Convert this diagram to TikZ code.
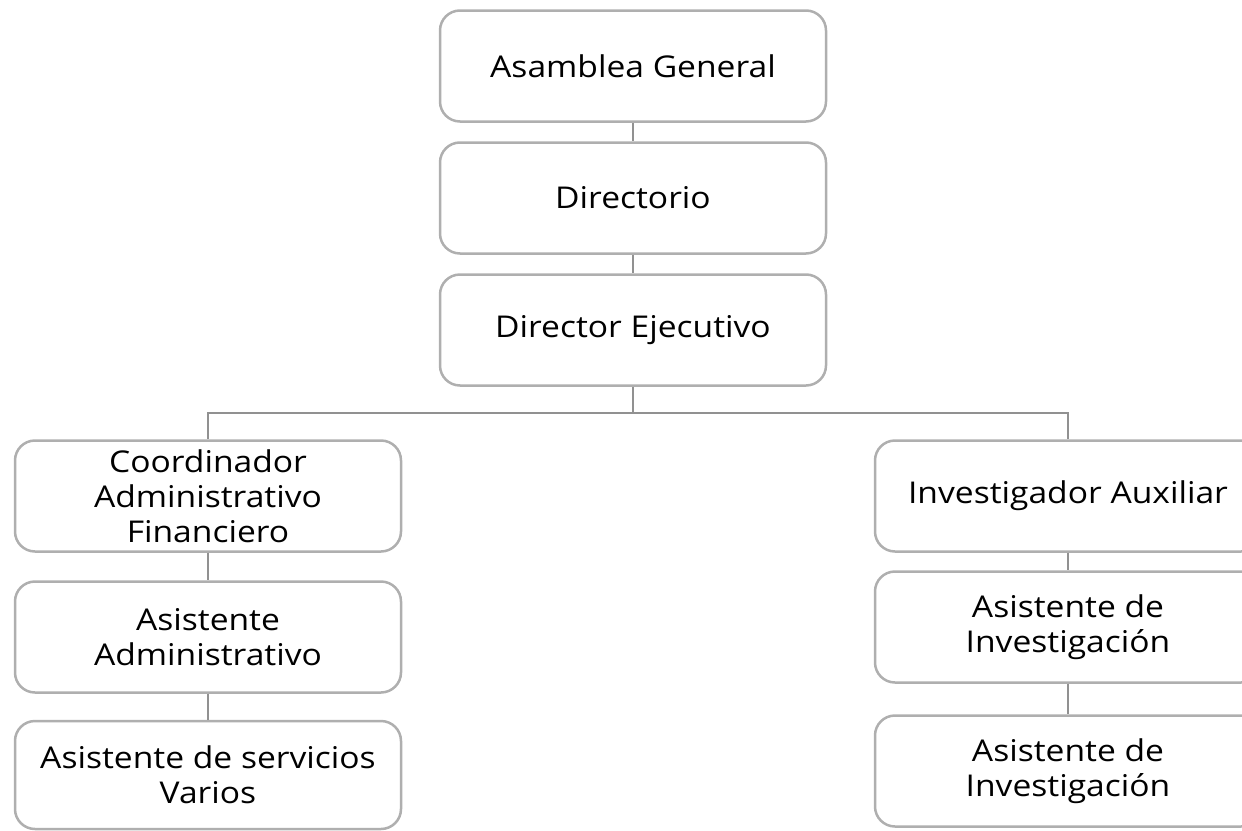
\documentclass[tikz,border=0pt]{standalone}
\usepackage{fontspec}
\setmainfont{Open Sans}[FakeStretch=1.12]
\usepackage{tikz}
\usetikzlibrary{positioning}
\definecolor{boxgray}{RGB}{175,175,175}
\definecolor{linegray}{RGB}{145,145,145}
\tikzset{cargo/.style={draw=boxgray, line width=2.5pt, rounded corners=20pt, fill=white,
			minimum width=386pt, minimum height=111pt, align=center, inner sep=0pt,
			font=\fontsize{30}{35}\selectfont},
		enlace/.style={draw=linegray, line width=2.8pt}}

\begin{document}
\begin{tikzpicture}[x=1pt, y=-1pt]

					\useasboundingbox (0,0) rectangle (1242,830);
					\clip (0,0) rectangle (1242,830);

					% direccion
					\node[cargo] (asamblea) at (633,66) {Asamblea General};
					\node[cargo] (directorio) at (633,198) {Directorio};
					\node[cargo] (director) at (633,330) {Director Ejecutivo};

					% rama administrativa
					\node[cargo] (coord) at (208,496) {Coordinador\\Administrativo\\Financiero};
					\node[cargo] (asisadm) at (208,637) {Asistente\\Administrativo};
					\node[cargo, minimum height=108pt] (servicios) at (208,775) {Asistente de servicios\\Varios};

					% rama de investigacion
					\node[cargo] (investigador) at (1068,496) {Investigador Auxiliar};
					\node[cargo] (asisinvA) at (1068,627) {Asistente de\\Investigaci\'on};
					\node[cargo] (asisinvB) at (1068,771) {Asistente de\\Investigaci\'on};

					\coordinate (bus) at (633,413);

					\draw[enlace] (asamblea) -- (directorio);
					\draw[enlace] (directorio) -- (director);
					\draw[enlace] (director) -- (bus);
					\draw[enlace] (bus) -| (coord.north);
					\draw[enlace] (bus) -| (investigador.north);
					\draw[enlace] (coord) -- (asisadm);
					\draw[enlace] (asisadm) -- (servicios);
					\draw[enlace] (investigador) -- (asisinvA);
					\draw[enlace] (asisinvA) -- (asisinvB);

\end{tikzpicture}
\end{document}
